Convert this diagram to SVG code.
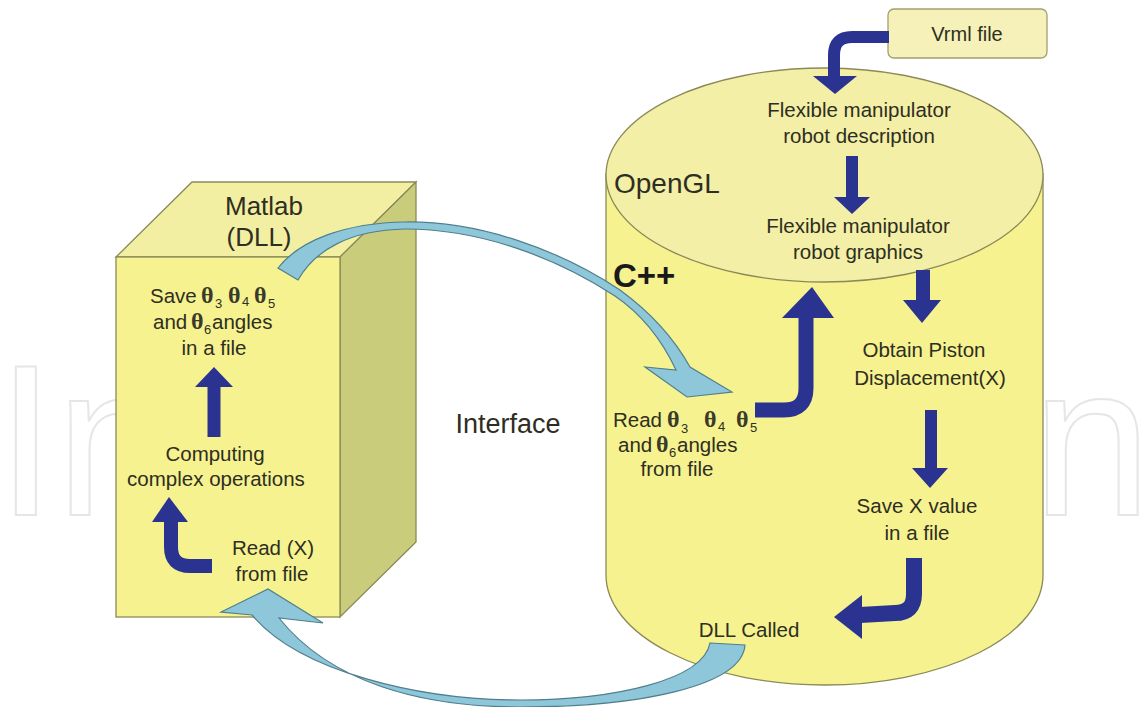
<svg xmlns="http://www.w3.org/2000/svg" width="1143" height="707" viewBox="0 0 1143 707">
<style>
.t{font-family:"Liberation Sans",Arial,sans-serif;font-size:20.5px;fill:#2e2e22}
.c{text-anchor:middle}
.th{font-family:"Liberation Serif","Times New Roman",serif;font-size:24px;font-weight:bold;fill:#3a3a2a}
.sub{font-family:"Liberation Sans",Arial,sans-serif;font-size:13px;fill:#2e2e22}
.wm{font-family:"Liberation Sans",Arial,sans-serif;font-size:215px;fill:none;stroke:#e6e6e6;stroke-width:2}
.navy{fill:none;stroke:#2a3390}
.head{fill:#2a3390}
.blue{fill:#8ec6da;stroke:#4f7f8c;stroke-width:1.2}
.edge{stroke:#8a8a58;stroke-width:1.3}
</style>
<rect width="1143" height="707" fill="#ffffff"/>
<g id="watermark">
<text class="wm" x="-4" y="515">In</text>
<text class="wm" x="1032" y="515">n</text>
</g>
<g id="matlab">
<polygon class="edge" points="116,257 192,182 416,182 340,257" fill="#f3efa2"/>
<polygon class="edge" points="340,257 416,182 416,542 340,617" fill="#c9cd7b"/>
<rect class="edge" x="116" y="257" width="224" height="360" fill="#f6f28f"/>
<text class="t c" x="264" y="215" style="font-size:26px">Matlab</text>
<text class="t c" x="259" y="246" style="font-size:26px">(DLL)</text>
</g>
<g id="cylinder">
<path class="edge" d="M606,174 L606,575 A218.5,110 0 0 0 1043,575 L1043,174 Z" fill="#f6f28f"/>
<ellipse class="edge" cx="824.5" cy="175" rx="218.5" ry="107" fill="#f3efa6"/>
<text class="t" x="614" y="193" style="font-size:28px">OpenGL</text>
<text class="t" x="613" y="287" style="font-size:33px;font-weight:bold;fill:#1a1a1a">C++</text>
</g>
<g id="vrml">
<rect x="888" y="9" width="159" height="49" rx="6" fill="#f5f1b8" stroke="#a0a070" stroke-width="1.3"/>
<text class="t c" x="967" y="41" style="font-size:20px">Vrml file</text>
</g>
<g id="n-desc"><text class="t c" x="859" y="117">Flexible manipulator</text><text class="t c" x="859" y="143">robot description</text></g>
<g id="n-graphics"><text class="t c" x="858" y="233">Flexible manipulator</text><text class="t c" x="858" y="259">robot graphics</text></g>
<g id="n-obtain"><text class="t c" x="924" y="357">Obtain  Piston</text><text class="t c" x="930" y="385">Displacement(X)</text></g>
<g id="n-savex"><text class="t c" x="917" y="513">Save X value</text><text class="t c" x="917" y="540">in a file</text></g>
<g id="n-dll"><text class="t c" x="749" y="637">DLL Called</text></g>
<g id="n-read-theta">
<text class="t" x="613" y="427">Read<tspan class="th" x="667">θ</tspan><tspan class="sub" x="681" y="433">3</tspan><tspan class="th" x="704" y="427">θ</tspan><tspan class="sub" x="718" y="431">4</tspan><tspan class="th" x="736" y="427">θ</tspan><tspan class="sub" x="750" y="432">5</tspan></text>
<text class="t" x="618" y="452">and<tspan class="th" x="656">θ</tspan><tspan class="sub" x="669" y="457">6</tspan><tspan x="677" y="452">angles</tspan></text>
<text class="t c" x="677" y="476">from file</text>
</g>
<g id="n-save-theta">
<text class="t" x="150" y="303">Save<tspan class="th" x="201">θ</tspan><tspan class="sub" x="215" y="308">3</tspan><tspan class="th" x="228" y="303">θ</tspan><tspan class="sub" x="242" y="306">4</tspan><tspan class="th" x="254" y="303">θ</tspan><tspan class="sub" x="268" y="308">5</tspan></text>
<text class="t" x="153" y="329">and<tspan class="th" x="191">θ</tspan><tspan class="sub" x="204" y="334">6</tspan><tspan x="212" y="329">angles</tspan></text>
<text class="t c" x="214" y="355">in a file</text>
</g>
<g id="n-computing"><text class="t c" x="215" y="461">Computing</text><text class="t c" x="216" y="486">complex operations</text></g>
<g id="n-readx"><text class="t c" x="273" y="555">Read (X)</text><text class="t c" x="272" y="581">from file</text></g>
<g id="n-interface"><text class="t c" x="508" y="433" style="font-size:27px">Interface</text></g>
<g id="connectors">
<path class="navy" stroke-width="12" d="M889,37 L852,37 Q834,37 834,55 L834,78"/>
<polygon class="head" points="813,76 835,94 857,76"/>
<path class="navy" stroke-width="12" d="M852,156 L852,199"/>
<polygon class="head" points="834,197 852,214 870,197"/>
<path class="navy" stroke-width="14" d="M923,270 L923,302"/>
<polygon class="head" points="903,300 922,323 941,300"/>
<path class="navy" stroke-width="12" d="M931,410 L931,470"/>
<polygon class="head" points="912,468 930,488 948,468"/>
<path class="navy" stroke-width="16" d="M914,558 L914,594 Q914,613 895,613 L860,615"/>
<polygon class="head" points="862,595 834,617 862,639"/>
<path class="navy" stroke-width="15" d="M755,410 L784,410 Q806,410 806,388 L806,316"/>
<polygon class="head" points="782,318 812,287 834,318"/>
<path class="navy" stroke-width="13" d="M214,437 L214,385"/>
<polygon class="head" points="195,387 214,367 233,387"/>
<path class="navy" stroke-width="14" d="M212,566 L190,566 Q171,566 171,547 L171,518"/>
<polygon class="head" points="152,522 169,497 188,522"/>
<path class="blue" d="M278,268 C300,240 345,223 405,222 C480,221 560,250 620,290 C650,312 675,340 690,367 L732,392 L687,397 L645,367 L676,370 C660,336 640,313 615,296 C555,257 480,229 405,229 C350,230 315,250 298,280 Z"/>
<path class="blue" d="M710,643 L745,645 C742,686 640,707 520,707 C420,707 330,682 279,618 L323,623 L268,589 L221,612 L252,615 C300,672 420,700 520,700 C615,700 703,680 710,643 Z"/>
</g>
</svg>
